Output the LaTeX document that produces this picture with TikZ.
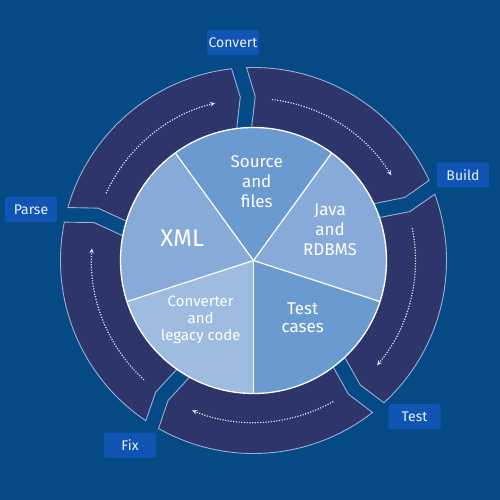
\documentclass[tikz,border=0pt]{standalone}
\usepackage{fontspec}
\setmainfont{Fira Sans}
\usetikzlibrary{arrows.meta}
\definecolor{bgblue}{RGB}{6,74,133}
\definecolor{ringblue}{RGB}{46,53,107}
\definecolor{ringline}{RGB}{150,176,218}
\definecolor{boxblue}{RGB}{16,85,180}
\definecolor{slicedark}{RGB}{106,154,207}
\definecolor{slicemid}{RGB}{135,170,216}
\definecolor{slicelight}{RGB}{158,187,224}
\tikzset{
  stagebox/.style={fill=boxblue, rounded corners=2pt, text=white!92!boxblue,
    minimum width=52pt, minimum height=25pt, inner sep=0pt,
    font=\fontsize{14}{16}\selectfont},
  slicetext/.style={text=white, align=center, font=\fontsize{17}{20}\selectfont},
  ringseg/.style={fill=ringblue, draw=ringline, line width=0.9pt},
  flow/.style={draw=white!85!ringblue, line width=1.2pt, dash pattern=on 1.2pt off 1.5pt,
    -{Stealth[length=5pt,width=4.5pt]}}
}
\begin{document}
\begin{tikzpicture}[x=1pt,y=1pt]
    \newcommand{\rcirc}{133}
    \fill[bgblue] (-253.5,-239.5) rectangle (246.5,260.5);
    % ring of arrow segments, clockwise
    \foreach \g in {92,20,-52,-124,-196} {
      \pgfmathsetmacro{\gend}{\g-72}
      \draw[ringseg] ({\g+0.07}:193) arc[start angle=\g+0.07, end angle=\gend+4.53, radius=193]
        -- ({\gend+2.62}:164) -- ({\gend+5.6}:130)
        arc[start angle=\gend+5.6, end angle=\g-1, radius=130]
        -- ({\g-2.62}:164) -- cycle;
      \draw[flow] ({\g-8.5}:162) arc[start angle=\g-8.5, end angle=\gend+11.7, radius=162];
    }
    % pie
    \foreach \a/\col in {54/slicedark, -18/slicemid, -90/slicedark, -162/slicelight, 126/slicemid}
      \fill[\col] (0,0) -- (\a:\rcirc) arc[start angle=\a, end angle=\a+72, radius=\rcirc] -- cycle;
    \foreach \a in {54,126,198,270,342}
      \draw[white, line width=1.2pt] (0,0) -- (\a:\rcirc);
    \draw[white, line width=1.3pt] (0,0) circle[radius=\rcirc];
    \node[slicetext] (src) at (3.2,78.8) {Source\\and\\files};
    \node[slicetext] (java) at (76.5,30.5) {Java\\and\\RDBMS};
    \node[slicetext, font=\fontsize{24}{28}\selectfont] (xml) at (-71.3,22.2) {XML};
    \node[slicetext, font=\fontsize{15}{16.7}\selectfont] (conv) at (-52.8,-59.5) {Converter\\and\\legacy code};
    \node[slicetext, font=\fontsize{17}{18.5}\selectfont] (cases) at (49.2,-57) {Test\\cases};
    % stage labels
    \node[stagebox] (convert) at (-20.5,218) {Convert};
    \node[stagebox] (build) at (209.5,85.5) {Build};
    \node[stagebox] (test) at (161,-156.2) {Test};
    \node[stagebox] (fix) at (-123.5,-184.5) {Fix};
    \node[stagebox] (parse) at (-222.5,51) {Parse};
\end{tikzpicture}
\end{document}
